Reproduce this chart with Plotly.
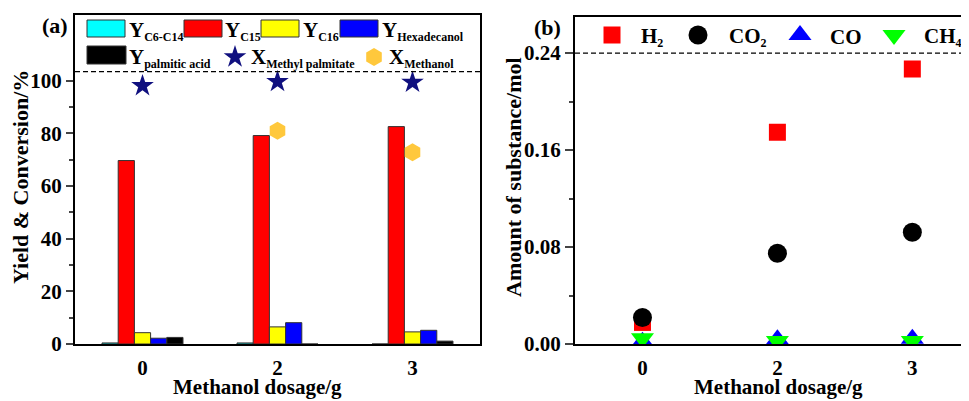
import plotly.graph_objects as go

# target screenshot size and page offset (browser body margin)
SCR_W, SCR_H = 969, 401
OFF = 8
W, H = SCR_W - OFF, SCR_H - OFF

# ---------------- data ----------------
categories = ['0', '2', '3']
y_c6_c14 = [0.4, 0.4, 0.0]
y_c15 = [69.7, 79.2, 82.6]
y_c16 = [4.3, 6.5, 4.6]
y_hexadecanol = [2.2, 8.1, 5.2]
y_palmitic_acid = [2.5, 0.0, 1.1]
x_methyl_palmitate = [98.1, 99.7, 99.4]
x_methanol = [None, 81.0, 72.9]
left_ref_line = 103.5

gas_h2 = [0.0178, 0.1747, 0.2268]
gas_co2 = [0.0219, 0.0749, 0.0922]
gas_co = [0.0019, 0.0039, 0.0044]
gas_ch4 = [0.0047, 0.0025, 0.0025]
right_ref_line = 0.24

left_yticks = [0, 20, 40, 60, 80, 100]
left_yminor = [10, 30, 50, 70, 90]
right_yticks = [0, 0.08, 0.16, 0.24]
right_yminor = [0.04, 0.12, 0.20]

SUB = '<sub><span style="font-size:12px">{}</span></sub>'
bar_names = ['Y' + SUB.format('C6-C14'), 'Y' + SUB.format('C15'), 'Y' + SUB.format('C16'),
             'Y' + SUB.format('Hexadecanol'), 'Y' + SUB.format('palmitic acid')]
bar_values = [y_c6_c14, y_c15, y_c16, y_hexadecanol, y_palmitic_acid]
bar_colors = ['#00FFFF', '#FF0000', '#FFFF00', '#0000FF', '#000000']
conv_names = ['X' + SUB.format('Methyl palmitate'), 'X' + SUB.format('Methanol')]
gas_names = ['H' + SUB.format('2'), 'CO' + SUB.format('2'), 'CO', 'CH' + SUB.format('4')]

FONT = 'Liberation Serif, Times New Roman, serif'
STAR_C = '#10107F'
HEX_C = '#FFC83C'
DASH = '5px,3px'

def px(x):
    return (x - OFF) / W

def py(y):
    return 1 - (y - OFF) / H

fig = go.Figure()

# ---------------- left panel ----------------
for name, vals, col in zip(bar_names, bar_values, bar_colors):
    fig.add_trace(go.Bar(x=categories, y=vals, name=name, marker_color=col,
                         marker_line=dict(color='#333333', width=1),
                         xaxis='x', yaxis='y', showlegend=False))

fig.add_trace(go.Scatter(x=categories, y=x_methyl_palmitate, mode='markers',
                         marker=dict(symbol='star', size=17, color=STAR_C),
                         xaxis='x', yaxis='y', showlegend=False))
fig.add_trace(go.Scatter(x=categories, y=x_methanol, mode='markers',
                         marker=dict(symbol='hexagon', size=18, color=HEX_C),
                         xaxis='x', yaxis='y', showlegend=False))

# ---------------- right panel ----------------
gas_series = [gas_h2, gas_co2, gas_co, gas_ch4]
gas_symbols = ['square', 'circle', 'triangle-up', 'triangle-down']
gas_colors = ['#FF0000', '#000000', '#0000FF', '#00FF00']
gas_sizes = [17, 19, 20, 20]
for name, vals, sym, col, sz in zip(gas_names, gas_series, gas_symbols, gas_colors, gas_sizes):
    fig.add_trace(go.Scatter(x=categories, y=vals, mode='markers', name=name,
                             marker=dict(symbol=sym, size=sz, color=col),
                             xaxis='x2', yaxis='y2', showlegend=False))

# ---------------- legend (drawn manually on a pixel overlay axis) ----------------
leg_rects = [(87, 125, 20, 37), (184, 222, 20, 37), (261, 299, 20, 37),
             (340, 378, 20, 37), (87, 126, 46, 64)]
leg_label_pos = [(127, 29), (223, 29), (301, 29), (380, 29), (127, 56)]
shapes = []
for (x0, x1, y0, y1), col in zip(leg_rects, bar_colors):
    shapes.append(dict(type='rect', xref='x3', yref='y3', x0=x0, x1=x1, y0=y0, y1=y1,
                       fillcolor=col, line=dict(color='#333333', width=1)))

fig.add_trace(go.Scatter(x=[235], y=[57], mode='markers',
                         marker=dict(symbol='star', size=17, color=STAR_C),
                         xaxis='x3', yaxis='y3', showlegend=False, hoverinfo='skip'))
fig.add_trace(go.Scatter(x=[374], y=[57], mode='markers',
                         marker=dict(symbol='hexagon', size=18, color=HEX_C),
                         xaxis='x3', yaxis='y3', showlegend=False, hoverinfo='skip'))
gas_leg_x = [612, 698, 800, 894]
gas_leg_lx = [639, 727, 828, 922]
for gx, sym, col, sz in zip(gas_leg_x, gas_symbols, gas_colors, gas_sizes):
    fig.add_trace(go.Scatter(x=[gx], y=[35], mode='markers',
                             marker=dict(symbol=sym, size=sz, color=col),
                             xaxis='x3', yaxis='y3', showlegend=False, hoverinfo='skip'))

annotations = []
def ann(text, x, y, size=21, xanchor='left', yanchor='middle', angle=0):
    annotations.append(dict(text=text, x=px(x), y=py(y), xref='paper', yref='paper',
                            xanchor=xanchor, yanchor=yanchor, showarrow=False,
                            textangle=angle,
                            font=dict(family=FONT, size=size, color='black', weight='bold')))

for name, (lx, ly) in zip(bar_names, leg_label_pos):
    ann(name, lx, ly + 2)
ann(conv_names[0], 249, 58)
ann(conv_names[1], 387, 58)
for name, lx in zip(gas_names, gas_leg_lx):
    ann(name, lx, 37)

# panel labels & axis titles
ann('(a)', 55, 25, size=22, xanchor='center')
ann('(b)', 547, 27, size=22, xanchor='center')
ann('Yield &amp; Conversion/%', 20, 177, size=22, xanchor='center', angle=-90)
ann('Amount of substance/mol', 513, 177, size=22, xanchor='center', angle=-90)
ann('Methanol dosage/g', 258, 401, size=21, xanchor='center', yanchor='bottom')
ann('Methanol dosage/g', 778, 401, size=21, xanchor='center', yanchor='bottom')

# dashed reference lines
shapes.append(dict(type='line', xref='x domain', yref='y', x0=0, x1=1,
                   y0=left_ref_line, y1=left_ref_line, line=dict(color='black', width=1.2, dash=DASH)))
shapes.append(dict(type='line', xref='x2 domain', yref='y2', x0=0, x1=1,
                   y0=right_ref_line, y1=right_ref_line, line=dict(color='black', width=1.2, dash=DASH)))

tickfont = dict(family=FONT, size=21, color='black', weight='bold')
axis_common = dict(showgrid=False, zeroline=False, showline=True, linecolor='black',
                   linewidth=2, tickfont=tickfont, automargin=False)

fig.update_layout(
    width=W, height=H, autosize=False,
    margin=dict(l=0, r=0, t=0, b=0, pad=0, autoexpand=False),
    paper_bgcolor='white', plot_bgcolor='rgba(0,0,0,0)',
    barmode='group', bargap=0.4, bargroupgap=0,
    showlegend=False,
    xaxis=dict(domain=[px(75), px(480)], anchor='y', type='category',
               categoryorder='array', categoryarray=categories,
               range=[-0.5, 2.5], mirror=True, ticks='', ticklabelstandoff=4,
               **axis_common),
    yaxis=dict(domain=[py(344), py(15)], anchor='x', range=[0, 125], mirror=True,
               tickvals=left_yticks, ticks='outside', ticklen=7, tickwidth=2,
               ticklabelstandoff=0,
               minor=dict(tickvals=left_yminor, ticks='outside', ticklen=4, tickwidth=1.5),
               **axis_common),
    xaxis2=dict(domain=[px(575), 1.0], anchor='y2', type='category',
                categoryorder='array', categoryarray=categories,
                range=[-0.5, 2.42], mirror=True, ticks='', ticklabelstandoff=4,
                **axis_common),
    yaxis2=dict(domain=[py(344), py(16.7)], anchor='x2', range=[0, 0.27], mirror=False,
                tickvals=right_yticks, tickformat='.2f', ticks='outside', ticklen=8,
                tickwidth=2, ticklabelstandoff=0,
                minor=dict(tickvals=right_yminor, ticks='outside', ticklen=4, tickwidth=1.5),
                **axis_common),
    xaxis3=dict(domain=[0, 1], anchor='y3', range=[OFF, SCR_W], visible=False, fixedrange=True),
    yaxis3=dict(domain=[0, 1], anchor='x3', range=[SCR_H, OFF], visible=False, fixedrange=True),
    shapes=shapes,
    annotations=annotations,
)

fig.write_html('out.html')
